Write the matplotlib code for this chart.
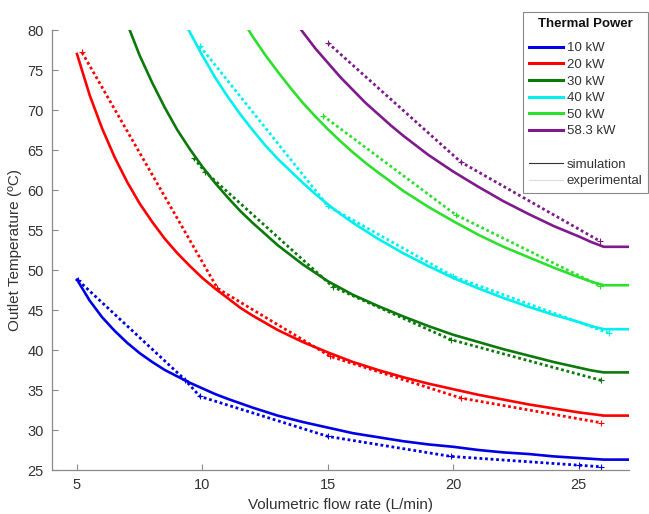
import matplotlib
matplotlib.use('Agg')
import matplotlib.pyplot as plt
from matplotlib.lines import Line2D
import numpy as np

plt.rcParams['font.family'] = ['Liberation Sans', 'DejaVu Sans']

powers = ['10 kW', '20 kW', '30 kW', '40 kW', '50 kW', '58.3 kW']
colors = ['#0000e6', '#ff0000', '#0b7a0b', '#00f0f0', '#2ee02e', '#7e1a8c']

# simulation curves (flow L/min, outlet temperature degC)
sim_10_x = [5, 5.5, 6, 6.5, 7, 7.5, 8, 8.5, 9, 9.5, 10, 10.5, 11, 12, 13, 14, 15, 16, 17, 18, 19, 20,
            21, 22, 23, 24, 25, 25.5, 26, 27]
sim_10_y = [48.8, 46.2, 44.1, 42.4, 40.9, 39.6, 38.5, 37.5, 36.7, 35.9, 35.2, 34.5, 33.9, 32.8, 31.8, 31.0,
            30.3, 29.6, 29.1, 28.6, 28.2, 27.9, 27.5, 27.2, 27.0, 26.7, 26.5, 26.4, 26.3, 26.3]
sim_20_x = [5, 5.5, 6, 6.5, 7, 7.5, 8, 8.5, 9, 9.5, 10, 10.5, 11, 11.5, 12, 13, 14, 15, 16, 17, 18, 19,
            20, 21, 22, 23, 24, 25, 25.5, 26, 27]
sim_20_y = [77.0, 71.9, 67.7, 64.1, 61.0, 58.3, 56.0, 53.9, 52.1, 50.5, 49.0, 47.7, 46.5, 45.3, 44.3, 42.5,
            41.0, 39.7, 38.5, 37.5, 36.6, 35.8, 35.1, 34.4, 33.8, 33.2, 32.7, 32.2, 32.0, 31.8, 31.8]
sim_30_x = [7.1, 7.5, 8, 8.5, 9, 9.5, 10, 10.5, 11, 11.5, 12, 12.5, 13, 13.5, 14, 15, 16, 17, 18, 19, 20,
            21, 22, 23, 24, 25, 25.5, 26, 27]
sim_30_y = [80.0, 76.8, 73.4, 70.3, 67.5, 65.1, 62.9, 60.9, 59.1, 57.4, 55.9, 54.5, 53.1, 51.9, 50.7, 48.6,
            46.9, 45.5, 44.2, 43.0, 41.9, 41.0, 40.1, 39.3, 38.5, 37.8, 37.45, 37.2, 37.2]
sim_40_x = [9.45, 10, 10.5, 11, 11.5, 12, 12.5, 13, 13.5, 14, 14.5, 15, 15.5, 16, 17, 18, 19, 20, 21, 22,
            23, 24, 25, 25.5, 26, 27]
sim_40_y = [80.0, 76.8, 74.1, 71.7, 69.5, 67.5, 65.6, 63.9, 62.4, 60.9, 59.5, 58.2, 57.0, 55.9, 53.9, 52.1,
            50.5, 49.0, 47.7, 46.5, 45.4, 44.4, 43.5, 43.0, 42.6, 42.6]
sim_50_x = [11.84, 12, 12.5, 13, 13.5, 14, 14.5, 15, 15.5, 16, 16.5, 17, 18, 19, 20, 21, 22, 23, 24, 25,
            25.5, 26, 27]
sim_50_y = [80.0, 79.2, 76.9, 74.8, 72.8, 70.9, 69.2, 67.6, 66.1, 64.7, 63.4, 62.2, 59.9, 57.9, 56.1, 54.4,
            52.9, 51.6, 50.3, 49.1, 48.55, 48.1, 48.1]
sim_58_x = [13.94, 14.5, 15, 15.5, 16, 16.5, 17, 17.5, 18, 19, 20, 21, 22, 23, 24, 25, 25.5, 26, 27]
sim_58_y = [80.0, 77.7, 75.9, 74.1, 72.5, 70.9, 69.5, 68.1, 66.8, 64.4, 62.3, 60.4, 58.6, 57.0, 55.5, 54.2,
            53.5, 52.9, 52.9]

# experimental measurements
exp_10_x = [5.05, 9.3, 9.9, 15.0, 19.9, 25.0, 25.9]
exp_10_y = [48.7, 36.3, 34.2, 29.2, 26.7, 25.6, 25.4]
exp_20_x = [5.2, 10.6, 15.1, 20.3, 25.9]
exp_20_y = [77.2, 47.7, 39.2, 34.0, 30.9]
exp_30_x = [9.65, 10.1, 15.2, 19.9, 25.9]
exp_30_y = [64.0, 62.3, 47.9, 41.3, 36.2]
exp_40_x = [9.9, 15.0, 20.0, 26.2]
exp_40_y = [78.0, 58.0, 49.2, 42.1]
exp_50_x = [14.8, 20.1, 25.85]
exp_50_y = [69.3, 56.9, 48.0]
exp_58_x = [15.0, 20.3, 25.85]
exp_58_y = [78.4, 63.5, 53.6]

sims = [(sim_10_x, sim_10_y), (sim_20_x, sim_20_y), (sim_30_x, sim_30_y),
        (sim_40_x, sim_40_y), (sim_50_x, sim_50_y), (sim_58_x, sim_58_y)]
exps = [(exp_10_x, exp_10_y), (exp_20_x, exp_20_y), (exp_30_x, exp_30_y),
        (exp_40_x, exp_40_y), (exp_50_x, exp_50_y), (exp_58_x, exp_58_y)]

fig = plt.figure(figsize=(6.49, 5.14), dpi=100)
ax = fig.add_axes([0.080, 0.0856, 0.889, 0.856])

for (sx, sy), (ex, ey), c in zip(sims, exps, colors):
    ax.plot(sx, sy, color=c, lw=1.9, solid_joinstyle='round')
    ax.plot(ex, ey, color=c, lw=2.0, ls=(0, (1, 1)), marker='+', ms=5, mew=0.8)

ax.set_xlim(4, 27)
ax.set_ylim(25, 80)
ax.set_xticks([5, 10, 15, 20, 25])
ax.set_yticks(np.arange(25, 81, 5))
for s in ['top', 'right']:
    ax.spines[s].set_visible(False)
for s in ['left', 'bottom']:
    ax.spines[s].set_color('#8a8a8a')
    ax.spines[s].set_linewidth(0.9)
ax.tick_params(direction='in', length=4, width=0.8, color='#8a8a8a', labelsize=10.5,
               labelcolor='#333333', pad=6)
ax.set_xlabel('Volumetric flow rate (L/min)', fontsize=11, color='#333333', labelpad=4)
ax.set_ylabel('Outlet Temperature (ºC)', fontsize=11, color='#333333', labelpad=4)

handles = [Line2D([], [], color=c, lw=2.2) for c in colors]
labels = list(powers)
handles.append(Line2D([], [], color='none'))
labels.append('')
handles.append(Line2D([], [], color='#333333', lw=0.8))
labels.append('simulation')
handles.append(Line2D([], [], color='#dddddd', lw=0.8))
labels.append('experimental')

leg = fig.legend(handles, labels, loc='upper left', bbox_to_anchor=(0.806, 0.977),
                 bbox_transform=fig.transFigure, title='Thermal Power', fontsize=9.5,
                 title_fontproperties={'weight': 'bold', 'size': 9.5},
                 fancybox=False, framealpha=1, edgecolor='#8a8a8a', handlelength=2.6,
                 handletextpad=0.25, labelspacing=0.33, borderpad=0.45, borderaxespad=0)
leg.get_frame().set_linewidth(0.8)
leg._legend_box.sep = 9
for t in leg.get_texts():
    t.set_color('#333333')
leg.get_title().set_color('#111111')

fig.canvas.draw()
lb = leg.get_window_extent()
tb = leg.get_title().get_window_extent()
yline = (tb.y0 - 4) / fig.bbox.height
fig.add_artist(Line2D([lb.x0 / fig.bbox.width, lb.x1 / fig.bbox.width], [yline, yline],
                      transform=fig.transFigure, color='#8a8a8a', lw=0.8))

fig.savefig('out.png', dpi=100)
